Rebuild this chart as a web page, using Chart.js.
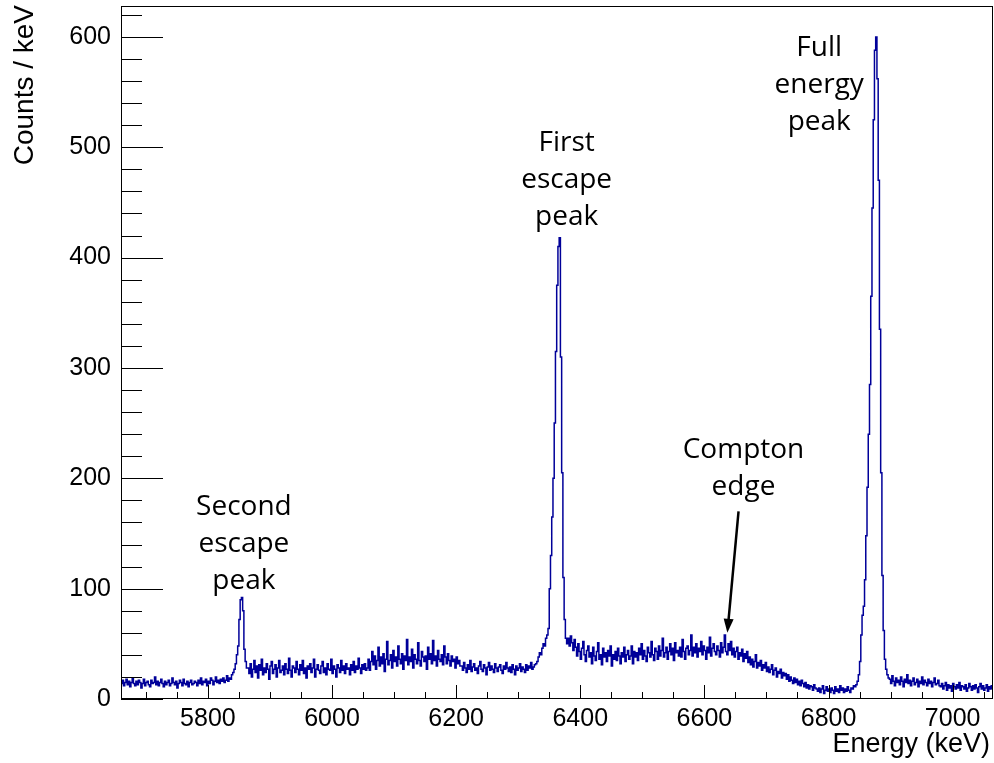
<!DOCTYPE html>
<html>
<head>
<meta charset="utf-8">
<title>Energy spectrum</title>
<script src="https://cdn.jsdelivr.net/npm/chart.js@4.4.1/dist/chart.umd.min.js"></script>
<style>
	html, body { margin: 0; padding: 0; background: #fff; }
	canvas { display: block; }
</style>
</head>
<body>
<canvas id="spectrum" width="994" height="763"></canvas>
<script>
// Histogram bins are 2 keV wide; each array holds counts/keV starting at its own energy.
const binWidth = 2;

const lowTail = [
	14,17,12,15,18,13,16,11,15,19,14,12,16,13,17,15,10,14,18,12,15,16,13,11,17,14,15,20,13,16,
	12,15,18,14,11,16,13,15,17,12,14,19,15,13,16,10,14,17,15,12,18,14,13,16,11,15,17,13,14,16,
	15,12,17,14,19,13,16,15,18,12,16,14,19,17,13,16,20,15,17,14,18,16,19,15,17,21,16,19,18,22
];
const secondEscape = [24,27,32,40,48,72,90,92,80,45,34,28];
const plateauLow = [
	28,23,32,20,27,35,24,30,19,31,26,36,22,28,24,32,27,18,30,34,23,27,31,20,28,35,24,26,30,22,
	32,27,23,37,26,20,30,28,24,34,27,22,31,26,35,23,28,19,30,27,32,24,28,36,20,27,31,26,23,30,
	34,24,28,22,32,27,26,36,23,30,27,20,31,28,24,35,26,30,23,32,27,28,22,31,26,34,24,30,27,37,
	28,23,31,27,32,26
];
const plateauBump = [
	28,36,26,34,43,31,39,27,35,47,30,38,32,41,25,36,52,31,35,40,28,44,34,38,30,48,36,32,41,27,
	39,35,54,31,38,34,45,28,40,36,32,51,35,30,43,38,34,39,27,47,36,41,32,53,35,39,30,44,36,34,
	40,31,48,38,32,41,35,30,39,34,36,28,38,32,35,30
];
const plateauHigh = [
	30,26,33,28,24,31,27,35,25,29,32,26,28,23,30,34,27,25,31,28,22,29,33,26,30,27,24,32,28,25,
	29,31,26,23,30,27,33,28,25,29,24,31,27,22,30,26,28,32,25,29,27,24,31,26,30,28,33,27,29,31,
	32
];
const firstEscape = [
	34,38,42,40,46,50,48,55,58,64,100,130,165,200,250,315,375,410,418,310,205,110,72,55,50
];
const comptonFlat = [
	55,48,57,51,44,54,47,39,50,43,36,46,52,40,34,44,48,38,42,32,47,39,35,43,51,36,40,31,46,38,
	42,34,44,39,48,30,40,36,43,35,46,39,32,42,38,47,34,40,44,36,39,48,32,43,38,42,35,46,40,50,
	36,44,39,34,47,42,38,52,40,35,46,43,36,48,39,44,55,38,42,47,36,43,50,40,46,35,51,42,44,39,
	47,38,54,43,36,46,48,40,44,58,39,47,42,50,38,46,43,52,40,48,44,36,47,42,56,39,46,50,43,40,
	48,44,38,51,42,47,58,43,40,50
];
const comptonFall = [
	44,52,40,46,38,43,47,36,42,39,45,34,41,37,43,33,
	38,31,36,29,34,40,28,33,30,35,26,31,28,33,25,
	29,24,27,31,22,26,28,20,25,23,27,19,24,21,23,
	18,22,16,20,17,14,19,15,18,13,16,12,17,14,11,
	15,10,13,9,12,11,8,13,10,9
];
const valley = [
	7,10,6,9,12,5,8,11,7,9,6,10,8,5,11,7,9,6,12,8,10,6,9,7,11,8,6,10,9,12,11
];
const fullEnergy = [
	13,16,22,34,58,76,84,108,148,192,240,285,365,445,525,588,600,562,470,335,205,112,62,36,27,22,19
];
const highTailNear = [
	18,14,21,16,12,19,15,17,13,20,16,11,18,15,22,14,17,12,16,19,13,15,18,11,16,14,20,13,17,15,
	12,18,14,16,11,15,19,13,14,17,12
];
const highTailFar = [
	11,14,9,12,15,8,13,10,12,7,14,11,9,13,10,15,8,12,11,9,13,7,10,14,11,8,12,9,13,10,
	6,11,14,9,12,8,10,13,7,11,9,12,10
];

// Start energy (keV) of each run of bins.
const segments = [
	[5660, lowTail], [5840, secondEscape], [5864, plateauLow], [6056, plateauBump],
	[6208, plateauHigh], [6330, firstEscape], [6380, comptonFlat], [6640, comptonFall],
	[6782, valley], [6844, fullEnergy], [6898, highTailNear], [6980, highTailFar]
];

const xRange = [5660, 7065];
const yRange = [0, 628];
const xTickValues = [5800, 6000, 6200, 6400, 6600, 6800, 7000];
const yTickValues = [0, 100, 200, 300, 400, 500, 600];
const xMinorStep = 50;
const yMinorStep = 20;

// Text labels placed in data coordinates (first line centre).
const peakLabels = [
	{ lines: ['Second', 'escape', 'peak'], x: 5858, y: 174 },
	{ lines: ['First', 'escape', 'peak'], x: 6378, y: 504 },
	{ lines: ['Full', 'energy', 'peak'], x: 6785, y: 590 },
	{ lines: ['Compton', 'edge'], x: 6663, y: 226 }
];
const edgeArrow = { from: [6655, 170], to: [6637, 60] };

// Build step points at the low edge of every bin, closing the last bin.
const points = [];
let lastEdge = 0, lastValue = 0;
segments.forEach(function(seg) {
	seg[1].forEach(function(v, i) {
		const x = seg[0] + i * binWidth;
		points.push({ x: x, y: v });
		lastEdge = x + binWidth;
		lastValue = v;
	});
});
points.push({ x: lastEdge, y: lastValue });

const axisFont = "'Liberation Sans', Arial, Helvetica, sans-serif";
const labelFont = "'Open Sans', 'Noto Sans', sans-serif";

// Frame, inward ticks, axis titles and peak labels.
const framePlugin = {
	id: 'frame',
	afterDraw: function(chart) {
		const ctx = chart.ctx;
		const a = chart.chartArea;
		const xs = chart.scales.x;
		const ys = chart.scales.y;

		ctx.save();
		ctx.strokeStyle = '#000';
		ctx.lineWidth = 1;
		ctx.strokeRect(Math.round(a.left) + 0.5, Math.round(a.top) + 0.5,
			Math.round(a.right - a.left) - 1, Math.round(a.bottom - a.top) - 1);

		ctx.beginPath();
		for (let v = Math.ceil(xRange[0] / xMinorStep) * xMinorStep; v <= xRange[1]; v += xMinorStep) {
			const px = Math.round(xs.getPixelForValue(v)) + 0.5;
			const len = (v % 200 === 0) ? 14 : 7;
			ctx.moveTo(px, a.bottom);
			ctx.lineTo(px, a.bottom - len);
		}
		for (let v = 0; v <= yRange[1]; v += yMinorStep) {
			const py = Math.round(ys.getPixelForValue(v)) + 0.5;
			const len = (v % 100 === 0) ? 42 : 21;
			ctx.moveTo(a.left, py);
			ctx.lineTo(a.left + len, py);
		}
		ctx.stroke();

		// axis titles
		ctx.fillStyle = '#000';
		ctx.font = "27px " + axisFont;
		ctx.textAlign = 'right';
		ctx.textBaseline = 'alphabetic';
		ctx.fillText('Energy (keV)', a.right - 3, 752);

		ctx.save();
		ctx.translate(33, a.top - 1);
		ctx.rotate(-Math.PI / 2);
		ctx.font = "28px " + axisFont;
		ctx.textAlign = 'right';
		ctx.fillText('Counts / keV', 0, 0);
		ctx.restore();

		// peak labels
		ctx.font = "28px " + labelFont;
		ctx.textAlign = 'center';
		ctx.textBaseline = 'middle';
		peakLabels.forEach(function(lab) {
			const px = xs.getPixelForValue(lab.x);
			const py = ys.getPixelForValue(lab.y);
			lab.lines.forEach(function(t, i) {
				ctx.fillText(t, px, py + i * 37);
			});
		});

		// arrow to the Compton edge
		const x0 = xs.getPixelForValue(edgeArrow.from[0]);
		const y0 = ys.getPixelForValue(edgeArrow.from[1]);
		const x1 = xs.getPixelForValue(edgeArrow.to[0]);
		const y1 = ys.getPixelForValue(edgeArrow.to[1]);
		const ang = Math.atan2(y1 - y0, x1 - x0);
		const head = 14;
		ctx.strokeStyle = '#000';
		ctx.lineWidth = 2.5;
		ctx.beginPath();
		ctx.moveTo(x0, y0);
		ctx.lineTo(x1 - Math.cos(ang) * head * 0.8, y1 - Math.sin(ang) * head * 0.8);
		ctx.stroke();
		ctx.beginPath();
		ctx.moveTo(x1, y1);
		ctx.lineTo(x1 - head * Math.cos(ang) + 5 * Math.sin(ang), y1 - head * Math.sin(ang) - 5 * Math.cos(ang));
		ctx.lineTo(x1 - head * Math.cos(ang) - 5 * Math.sin(ang), y1 - head * Math.sin(ang) + 5 * Math.cos(ang));
		ctx.closePath();
		ctx.fill();
		ctx.restore();
	}
};

function plainLabel(value) {
	return String(value);
}

new Chart(document.getElementById('spectrum'), {
	type: 'line',
	data: {
		datasets: [{
			data: points,
			stepped: 'before',
			borderColor: '#000099',
			borderWidth: 1.5,
			pointRadius: 0,
			fill: false,
			tension: 0
		}]
	},
	options: {
		responsive: false,
		animation: false,
		layout: { padding: { top: 6, right: 1, left: 0, bottom: 0 } },
		plugins: {
			legend: { display: false },
			tooltip: { enabled: false }
		},
		scales: {
			x: {
				type: 'linear',
				min: xRange[0],
				max: xRange[1],
				grid: { display: false, drawTicks: false },
				border: { display: false },
				afterBuildTicks: function(scale) {
					scale.ticks = xTickValues.map(function(v) { return { value: v }; });
				},
				afterFit: function(scale) {
					scale.height = 64;
					scale.paddingLeft = 0;
					scale.paddingRight = 0;
				},
				ticks: {
					color: '#000',
					padding: 5,
					maxRotation: 0,
					autoSkip: false,
					callback: plainLabel,
					font: { size: 25, family: axisFont }
				}
			},
			y: {
				type: 'linear',
				min: yRange[0],
				max: yRange[1],
				grid: { display: false, drawTicks: false },
				border: { display: false },
				afterBuildTicks: function(scale) {
					scale.ticks = yTickValues.map(function(v) { return { value: v }; });
				},
				afterFit: function(scale) {
					scale.width = 121;
					scale.paddingTop = 0;
					scale.paddingBottom = 0;
				},
				ticks: {
					color: '#000',
					padding: 10,
					autoSkip: false,
					callback: plainLabel,
					font: { size: 25, family: axisFont }
				}
			}
		}
	},
	plugins: [framePlugin]
});
</script>
</body>
</html>
